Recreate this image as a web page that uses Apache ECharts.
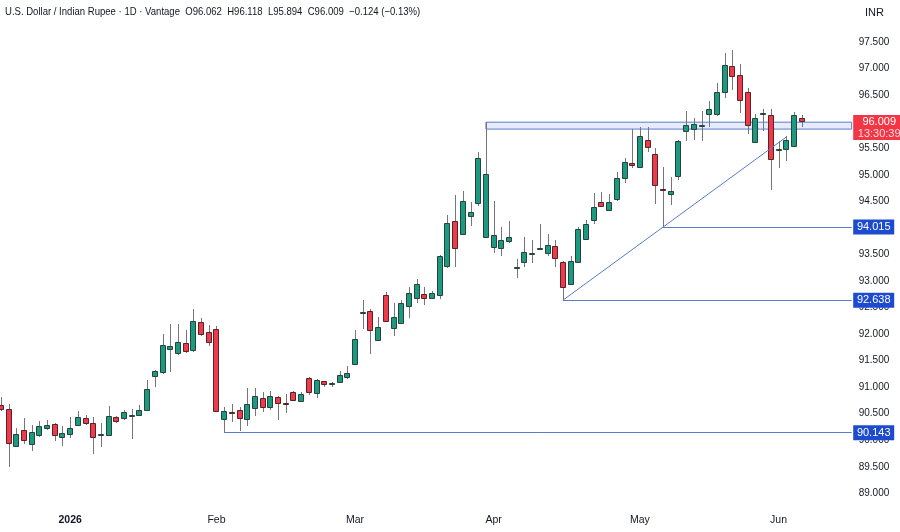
<!DOCTYPE html>
<html>
<head>
<meta charset="utf-8">
<script src="https://cdn.jsdelivr.net/npm/echarts@6/dist/echarts.min.js"></script>
<style>
  html, body { margin: 0; padding: 0; background: #fff; }
  #chart { width: 900px; height: 532px; }
</style>
</head>
<body>
<div id="chart"></div>
<script>
// daily USD/INR bars
const opens = [
  90.66, 90.59, 89.89, 90.19, 89.92, 90.09, 90.22, 90.30, 90.06, 90.13,
  90.28, 90.42, 90.33, 90.11, 90.10, 90.44, 90.41, 90.47, 90.48, 90.58,
  91.20, 91.29, 91.72, 91.65, 91.83, 91.69, 92.23, 92.03, 92.09, 90.41,
  90.53, 90.57, 90.39, 90.60, 90.80, 90.63, 90.81, 90.70, 90.90, 90.74,
  91.18, 90.88, 91.11, 91.06, 91.08, 91.19, 91.43, 92.40, 92.44, 91.89,
  92.74, 92.13, 92.21, 92.53, 92.69, 92.75, 92.68, 92.73, 93.29, 94.13,
  93.88, 94.22, 94.48, 93.82, 93.63, 93.62, 93.75, 93.25, 93.35, 93.51,
  93.62, 93.52, 93.66, 93.36, 92.95, 93.34, 93.79, 94.15, 94.48, 94.32,
  94.54, 94.94, 95.23, 95.14, 95.66, 95.39, 94.74, 94.63, 94.99, 95.81,
  95.86, 95.92, 96.14, 96.15, 96.56, 97.04, 96.87, 96.56, 95.62, 96.16,
  96.12, 95.46, 95.48, 95.54, 96.062
];
const closes = [
  90.59, 89.95, 90.11, 90.01, 90.15, 90.26, 90.28, 90.09, 90.13, 90.24,
  90.44, 90.33, 90.07, 90.12, 90.46, 90.36, 90.53, 90.48, 90.57, 90.97,
  91.30, 91.79, 91.77, 91.85, 91.67, 92.24, 92.00, 91.84, 90.54, 90.56,
  90.52, 90.41, 90.68, 90.83, 90.63, 90.83, 90.69, 90.68, 90.74, 90.88,
  90.92, 91.13, 91.06, 91.07, 91.22, 91.26, 91.91, 92.42, 92.08, 92.14,
  92.25, 92.33, 92.58, 92.77, 92.95, 92.67, 92.78, 93.47, 94.10, 93.63,
  94.50, 94.29, 95.32, 95.01, 93.86, 93.77, 93.82, 93.27, 93.54, 93.52,
  93.63, 93.68, 93.44, 92.89, 93.38, 93.97, 94.07, 94.39, 94.41, 94.48,
  94.93, 95.24, 95.19, 95.73, 95.53, 94.80, 94.72, 94.69, 95.64, 95.93,
  95.95, 95.93, 96.24, 96.56, 97.06, 96.85, 96.39, 95.94, 96.07, 96.17,
  95.30, 95.48, 95.65, 96.12, 96.009
];
const lows = [
  90.55, 89.50, 89.87, 89.93, 89.79, 90.07, 90.19, 89.99, 89.90, 90.04,
  90.27, 90.29, 89.74, 89.88, 90.09, 90.33, 90.38, 90.02, 90.47, 90.57,
  91.01, 91.24, 91.29, 91.61, 91.65, 91.67, 91.96, 91.78, 90.53, 90.143,
  90.34, 90.17, 90.27, 90.46, 90.54, 90.57, 90.38, 90.51, 90.73, 90.73,
  90.85, 90.79, 91.01, 91.01, 91.07, 91.16, 91.41, 92.09, 91.63, 91.88,
  92.23, 91.96, 92.20, 92.30, 92.59, 92.55, 92.67, 92.66, 93.24, 93.27,
  93.87, 94.04, 94.41, 93.80, 93.52, 93.47, 93.72, 93.05, 93.26, 93.33,
  93.60, 93.47, 93.27, 92.638, 92.94, 93.33, 93.77, 94.07, 94.40, 94.31,
  94.51, 94.84, 95.12, 95.13, 95.42, 94.45, 94.015, 94.43, 94.90, 95.64,
  95.65, 95.64, 95.89, 96.11, 96.45, 96.60, 96.17, 95.76, 95.61, 95.83,
  94.71, 95.12, 95.26, 95.53, 95.894
];
const highs = [
  90.81, 90.68, 90.24, 90.41, 90.28, 90.36, 90.38, 90.33, 90.27, 90.44,
  90.55, 90.48, 90.43, 90.33, 90.64, 90.46, 90.57, 90.58, 90.66, 91.13,
  91.32, 92.00, 92.18, 92.19, 92.08, 92.47, 92.30, 92.17, 92.16, 90.63,
  90.68, 90.63, 90.98, 90.98, 90.91, 90.93, 90.83, 90.87, 90.93, 90.90,
  91.20, 91.16, 91.12, 91.10, 91.30, 91.40, 92.08, 92.65, 92.47, 92.32,
  92.79, 92.59, 92.64, 92.88, 93.04, 92.89, 92.82, 93.49, 94.25, 94.61,
  94.70, 94.49, 95.43, 95.99, 94.51, 94.02, 94.12, 93.41, 93.82, 93.77,
  94.08, 93.88, 93.77, 93.37, 93.47, 94.01, 94.15, 94.65, 94.68, 94.64,
  95.05, 95.31, 95.86, 95.89, 95.89, 95.51, 95.14, 94.96, 95.65, 96.20,
  96.06, 96.20, 96.39, 96.72, 97.30, 97.35, 97.08, 96.63, 96.14, 96.23,
  96.23, 95.64, 95.73, 96.19, 96.118
];

// month labels sit under these bar indices
const tickIndex = [9, 28, 46, 64, 83, 101];
const tickText = ['2026', 'Feb', 'Mar', 'Apr', 'May', 'Jun'];
// price scale labels that are not hidden behind the INR tag / level boxes
const priceTicks = [89, 89.5, 90, 90.5, 91, 91.5, 92, 92.5, 93, 93.5, 94.5, 95, 95.5, 96.5, 97, 97.5];

// drawn levels
const bandTop = 95.99, bandBottom = 95.86, bandFrom = 63;
const levels = [90.143, 92.638, 94.015];
const levelFrom = [29, 73, 86];
const trendFrom = [73, 92.638], trendTo = [102, 95.71];
const lastPrice = 96.009, countdown = '13:30:39';
const header = 'U.S. Dollar / Indian Rupee · 1D · Vantage  O96.062  H96.118  L95.894  C96.009  −0.124 (−0.13%)';

// bar index range visible in the pane (first bar is cut at the left edge)
const X_MIN = -0.11, X_MAX = 110.5;

const candles = opens.map((o, i) => [i, o, closes[i], lows[i], highs[i]]);

const UP = '#1b9a7f', DOWN = '#ef3a4a';
const UP_EDGE = '#26443d', DOWN_EDGE = '#552329';
const WICK = '#767676';
const LINE = '#5a7bcb';
const TAG = '#1d4bd0';
const INK = '#131722';
const FONT = '"Liberation Sans", Arial, sans-serif';

function renderCandle(params, api) {
  const i = api.value(0);
  const o = api.value(1), c = api.value(2);
  const pO = api.coord([i, o]);
  const pC = api.coord([i, c]);
  const pL = api.coord([i, api.value(3)]);
  const pH = api.coord([i, api.value(4)]);
  const cx = Math.round(pO[0]);
  const up = c >= o;
  const top = Math.round(Math.min(pO[1], pC[1]));
  const h = Math.round(Math.abs(pO[1] - pC[1]));
  return {
    type: 'group',
    children: [
      {
        type: 'line',
        shape: { x1: cx + 0.5, y1: Math.round(pH[1]), x2: cx + 0.5, y2: Math.round(pL[1]) },
        style: { stroke: WICK, lineWidth: 1 }
      },
      {
        type: 'rect',
        shape: { x: cx - 2.5, y: top + 0.5, width: 5, height: h },
        style: { fill: up ? UP : DOWN, stroke: up ? UP_EDGE : DOWN_EDGE, lineWidth: 1 }
      }
    ]
  };
}

const chart = echarts.init(document.getElementById('chart'), null, { renderer: 'canvas' });

const levelTags = levels.map(v => ({
  coord: [X_MAX, v],
  symbol: 'rect',
  symbolSize: [41, 15],
  symbolOffset: [22, 0],
  itemStyle: { color: TAG },
  label: {
    show: true, position: 'inside', formatter: v.toFixed(3),
    color: '#fff', fontSize: 11, fontFamily: FONT
  }
}));

const option = {
  animation: false,
  backgroundColor: '#ffffff',
  graphic: [
    {
      type: 'text', left: 5, top: 6, scaleX: 0.868,
      style: { text: header, fill: INK, font: '11px ' + FONT }
    },
    {
      type: 'text', left: 865, top: 7,
      style: { text: 'INR', fill: INK, font: '11px ' + FONT }
    }
  ],
  grid: { left: 0, top: 2.18, width: 851.7, height: 504.45, containLabel: false },
  xAxis: {
    type: 'value',
    min: X_MIN, max: X_MAX,
    axisLine: { show: false },
    axisTick: { show: false },
    splitLine: { show: false },
    axisLabel: {
      customValues: tickIndex,
      margin: 8,
      fontSize: 10.5,
      color: INK,
      fontFamily: FONT,
      formatter: (v) => {
        const k = tickIndex.indexOf(Math.round(v));
        if (k < 0) return '';
        return k === 0 ? '{b|' + tickText[k] + '}' : tickText[k];
      },
      rich: { b: { fontWeight: 'bold', fontSize: 10.5, color: INK, fontFamily: FONT } }
    }
  },
  yAxis: {
    type: 'value',
    position: 'right',
    min: 88.75, max: 98.25, interval: 0.25,
    axisLine: { show: false },
    axisTick: { show: false },
    splitLine: { show: false },
    axisLabel: {
      margin: 7,
      fontSize: 10,
      color: INK,
      fontFamily: FONT,
      formatter: (v) => priceTicks.some(t => Math.abs(t - v) < 1e-6) ? v.toFixed(3) : ''
    }
  },
  series: [
    {
      type: 'custom',
      name: 'USDINR',
      renderItem: renderCandle,
      encode: { x: 0, y: [1, 2, 3, 4] },
      data: candles,
      clip: true,
      z: 2
    },
    {
      type: 'line',
      data: [trendFrom, trendTo],
      symbol: 'none',
      silent: true,
      lineStyle: { color: LINE, width: 1 },
      z: 3,
      markArea: {
        silent: true,
        itemStyle: { color: 'rgba(60,100,230,0.12)', borderColor: LINE, borderWidth: 1 },
        data: [[{ coord: [bandFrom, bandTop] }, { coord: [X_MAX, bandBottom] }]]
      },
      markLine: {
        silent: true,
        symbol: 'none',
        label: { show: false },
        lineStyle: { color: LINE, width: 1, type: 'solid' },
        data: levels.map((v, k) => [{ coord: [levelFrom[k], v] }, { coord: [X_MAX, v] }])
      },
      markPoint: {
        silent: true,
        data: levelTags.concat([{
          coord: [X_MAX, lastPrice],
          symbol: 'rect',
          symbolSize: [52, 25],
          symbolOffset: [27.5, 6.3],
          itemStyle: { color: '#f23645' },
          label: {
            show: true, position: 'inside',
            formatter: '{a|' + lastPrice.toFixed(3) + '}\n{b|' + countdown + '}',
            rich: {
              a: { color: '#fff', fontSize: 11, lineHeight: 12, fontFamily: FONT },
              b: { color: 'rgba(255,255,255,0.82)', fontSize: 11, lineHeight: 12, fontFamily: FONT }
            }
          }
        }])
      }
    }
  ]
};

chart.setOption(option);
</script>
</body>
</html>
